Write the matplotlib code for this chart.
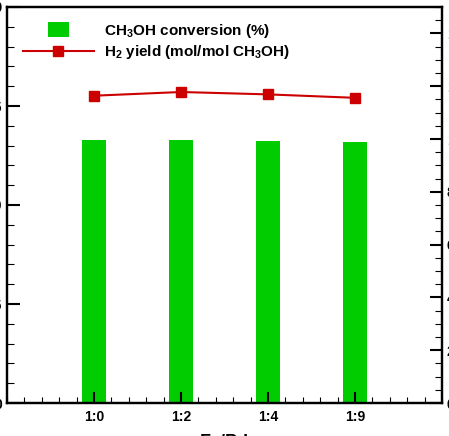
import matplotlib
matplotlib.use('Agg')
import matplotlib.pyplot as plt
from matplotlib.ticker import MultipleLocator, AutoMinorLocator
from matplotlib.legend_handler import HandlerPatch
from matplotlib.patches import Rectangle

plt.rcParams['font.family'] = ['Liberation Sans', 'DejaVu Sans']
plt.rcParams['font.weight'] = 'bold'
plt.rcParams['mathtext.fontset'] = 'custom'
plt.rcParams['mathtext.rm'] = 'Liberation Sans:bold'
plt.rcParams['mathtext.bf'] = 'Liberation Sans:bold'
plt.rcParams['mathtext.it'] = 'Liberation Sans:bold'

# data
ratios = ['1:0', '1:2', '1:4', '1:9']
conversion = [66.3, 66.3, 66.1, 66.0]
h2_yield = [11.64, 11.78, 11.69, 11.56]

x = [1, 2, 3, 4]

fig = plt.figure(figsize=(4.49, 4.36), dpi=100)
ax = fig.add_axes([7 / 449, 1 - 403 / 436, 435 / 449, 396 / 436])
ax2 = ax.twinx()

bars = ax.bar(x, conversion, width=0.27, color='#00cc00')
line, = ax2.plot(x, h2_yield, color='#cc0000', lw=1.5, marker='s', ms=7)

ax.set_xlim(0, 5)
ax.set_ylim(0, 100)
ax2.set_ylim(0, 15)
ax.set_xticks(x)
ax.set_xticklabels(ratios)
ax.xaxis.set_minor_locator(AutoMinorLocator(5))
ax.yaxis.set_major_locator(MultipleLocator(25))
ax.yaxis.set_minor_locator(AutoMinorLocator(5))
ax2.yaxis.set_major_locator(MultipleLocator(2))
ax2.yaxis.set_minor_locator(AutoMinorLocator(4))

for a in (ax, ax2):
    a.tick_params(which='major', direction='in', length=9, width=1.5, labelsize=10)
    a.tick_params(which='minor', direction='in', length=5, width=0.8)
    for s in a.spines.values():
        s.set_linewidth(1.6)
ax.tick_params(axis='x', which='major', length=8, pad=5)
ax.tick_params(axis='x', which='minor', length=4)

ax.set_xlabel('Fe/Pd', fontsize=13, fontweight='bold', labelpad=7)


def small_box(legend, orig_handle, xdescent, ydescent, width, height, fontsize):
    w, h = 14.5, 10.8
    return Rectangle((width / 2 - w / 2 - xdescent, height / 2 - h / 2 - ydescent), w, h)


ax2.legend([bars.patches[0], line],
           [r'CH$_3$OH conversion (%)', r'H$_2$ yield (mol/mol CH$_3$OH)'],
           handler_map={Rectangle: HandlerPatch(patch_func=small_box)},
           loc='upper left', bbox_to_anchor=(0.006, 0.998), frameon=False,
           handlelength=4.6, handletextpad=0.65, labelspacing=0.25,
           prop={'weight': 'bold', 'size': 11})

fig.savefig('out.png', dpi=100)
